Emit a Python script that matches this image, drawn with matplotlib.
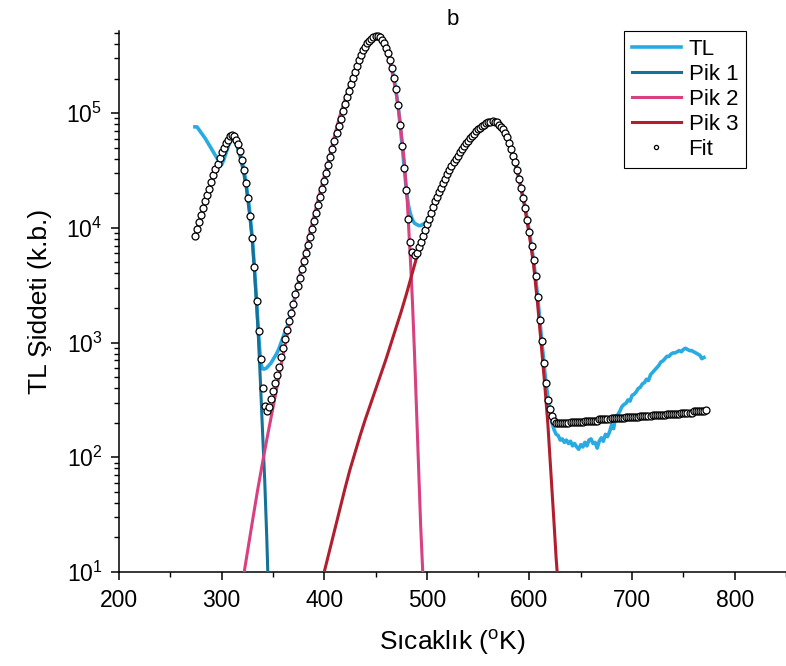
import matplotlib
matplotlib.use("Agg")
import matplotlib.pyplot as plt
import numpy as np
from matplotlib.ticker import MultipleLocator

# --- data (intensities stored as log10) ---
# Fit points, one every 2 K from 274 K to 772 K
fit_T = np.arange(274, 773, 2)
fit_log = [
    3.93, 3.99, 4.05, 4.11, 4.17, 4.23, 4.29, 4.34, 4.40, 4.46,
    4.51, 4.56, 4.61, 4.66, 4.70, 4.74, 4.77, 4.80, 4.81, 4.80,
    4.77, 4.73, 4.67, 4.59, 4.50, 4.39, 4.26, 4.10, 3.91, 3.66,
    3.36, 3.10, 2.86, 2.60, 2.45, 2.40,
    2.44, 2.51, 2.58, 2.65, 2.72, 2.79, 2.87, 2.95, 3.03, 3.11,
    3.19, 3.26, 3.34, 3.42, 3.49, 3.56, 3.64, 3.71, 3.78, 3.85,
    3.92, 3.99, 4.06, 4.13, 4.20, 4.27, 4.34, 4.41, 4.48, 4.55,
    4.62, 4.69, 4.76, 4.83, 4.89, 4.95, 5.02, 5.08, 5.14, 5.19,
    5.25, 5.31, 5.36, 5.41, 5.46, 5.51, 5.55, 5.58, 5.61, 5.63,
    5.65, 5.66, 5.67, 5.67, 5.66, 5.64, 5.61, 5.57, 5.52, 5.46,
    5.39, 5.31, 5.21, 5.07, 4.90, 4.71, 4.52, 4.33, 4.08, 3.88,
    3.79, 3.76,
    3.78, 3.83, 3.88, 3.93, 3.98, 4.03, 4.08, 4.13, 4.18, 4.23,
    4.27, 4.31, 4.35, 4.39, 4.43, 4.47, 4.50, 4.54, 4.57, 4.60,
    4.63, 4.66, 4.69, 4.71, 4.74, 4.76, 4.78, 4.80, 4.82, 4.84,
    4.86, 4.87, 4.89, 4.90, 4.91, 4.92, 4.925, 4.93, 4.925, 4.92,
    4.90, 4.88, 4.86, 4.83, 4.79, 4.74, 4.69, 4.63, 4.57, 4.50,
    4.43, 4.35, 4.26, 4.17, 4.07, 3.96, 3.84, 3.72, 3.58, 3.40,
    3.20, 3.01, 2.82, 2.65, 2.50, 2.42, 2.36, 2.32, 2.30,
    2.30, 2.30, 2.30, 2.30, 2.30, 2.30,
    2.31, 2.31, 2.31, 2.31, 2.31, 2.31, 2.31,
    2.32, 2.32, 2.32, 2.32, 2.32, 2.32, 2.32,
    2.33, 2.33, 2.33, 2.33, 2.33, 2.33,
    2.34, 2.34, 2.34, 2.34, 2.34, 2.34, 2.34,
    2.35, 2.35, 2.35, 2.35, 2.35, 2.35, 2.35,
    2.36, 2.36, 2.36, 2.36, 2.36, 2.36,
    2.37, 2.37, 2.37, 2.37, 2.37, 2.37, 2.37,
    2.38, 2.38, 2.38, 2.38, 2.38, 2.38, 2.38,
    2.39, 2.39, 2.39, 2.39, 2.39, 2.39,
    2.40, 2.40, 2.40, 2.40, 2.40, 2.40,
    2.41,
]

# measured TL curve
tl_T = [
    274, 276, 280, 284, 288, 292, 296, 300, 302, 305, 308, 310, 312, 314,
    316, 318, 320, 322, 324, 326, 328, 330, 332, 334, 336, 338, 340, 342,
    344, 346, 348, 350, 352, 354, 356, 358, 360, 362, 364, 368, 372, 380,
    388, 396, 404, 412, 420, 428, 436, 444, 450, 456, 462, 468, 472, 476,
    480, 482, 484, 486, 488, 490, 492, 494, 496, 498, 500, 502, 506, 512,
    520, 530, 540, 550, 560, 566, 572, 578, 584, 590, 596, 600, 604, 608,
    612, 616, 620, 622, 624, 626,
    628, 630, 632, 634, 636, 638, 640, 642, 644, 646,
    648, 650, 652, 654, 656, 658, 660, 662, 664, 666,
    668, 670, 672, 674, 676, 678, 680, 682, 684, 686,
    688, 690, 692, 694, 696, 698, 700, 702, 704, 706,
    708, 710, 712, 714, 716, 718, 720, 722, 724, 726,
    728, 730, 732, 734, 736, 738, 740, 742, 744, 746,
    748, 750, 752, 754, 756, 758, 760, 762, 764, 766,
    768, 770,
]
tl_log = [
    4.88, 4.88, 4.83, 4.78, 4.72, 4.66, 4.60, 4.55, 4.59, 4.67, 4.75, 4.79, 4.79, 4.76,
    4.72, 4.66, 4.58, 4.49, 4.38, 4.25, 4.09, 3.90, 3.65, 3.36, 3.08, 2.82, 2.77, 2.77,
    2.78, 2.80, 2.82, 2.85, 2.88, 2.91, 2.95, 3.00, 3.05, 3.10, 3.14, 3.26, 3.42, 3.71,
    3.99, 4.27, 4.55, 4.83, 5.08, 5.31, 5.51, 5.63, 5.67, 5.64, 5.52, 5.31, 5.07, 4.71,
    4.33, 4.20, 4.12, 4.07, 4.04, 4.03, 4.02, 4.02, 4.03, 4.04, 4.06, 4.08, 4.18, 4.31,
    4.47, 4.63, 4.76, 4.86, 4.92, 4.925, 4.88, 4.79, 4.63, 4.43, 4.17, 3.96, 3.72, 3.40,
    3.01, 2.65, 2.40, 2.30, 2.24, 2.20,
    2.19, 2.15, 2.16, 2.13, 2.15, 2.12, 2.14, 2.10, 2.12, 2.09,
    2.07, 2.11, 2.09, 2.13, 2.10, 2.15, 2.16, 2.12, 2.13, 2.08,
    2.14, 2.17, 2.14, 2.20, 2.18, 2.22, 2.28, 2.25, 2.36, 2.37,
    2.40, 2.44, 2.46, 2.47, 2.50, 2.49, 2.54, 2.55, 2.57, 2.60,
    2.61, 2.64, 2.65, 2.68, 2.67, 2.72, 2.74, 2.76, 2.78, 2.80,
    2.83, 2.84, 2.86, 2.88, 2.88, 2.90, 2.91, 2.91, 2.92, 2.93,
    2.92, 2.94, 2.95, 2.94, 2.93, 2.93, 2.92, 2.91, 2.90, 2.89,
    2.86, 2.87,
]

# glow peaks from the deconvolution
pik1_T = [274, 280, 285, 290, 295, 300, 305, 308, 310, 312, 315, 318, 321, 324,
          327, 330, 332, 334, 336, 338, 340, 342, 344, 345]
pik1_log = [3.92, 4.11, 4.26, 4.39, 4.52, 4.64, 4.74, 4.78, 4.79, 4.77, 4.71, 4.62,
            4.50, 4.35, 4.14, 3.88, 3.62, 3.35, 3.02, 2.62, 2.20, 1.80, 1.30, 1.00]

pik2_T = [322, 326, 330, 335, 340, 345, 350, 355, 360, 365, 370, 375, 380, 385,
          390, 395, 400, 405, 410, 415, 420, 425, 430, 435, 440, 445, 450, 455,
          460, 465, 470, 474, 478, 481, 484, 486, 488, 490, 492, 494, 496]
pik2_log = [1.00, 1.22, 1.44, 1.71, 1.96, 2.20, 2.43, 2.66, 2.90, 3.12, 3.33, 3.53,
            3.73, 3.92, 4.10, 4.28, 4.45, 4.62, 4.80, 4.97, 5.11, 5.25, 5.38, 5.49,
            5.58, 5.64, 5.66, 5.64, 5.55, 5.41, 5.18, 4.92, 4.58, 4.22, 3.72, 3.35,
            2.90, 2.40, 1.90, 1.40, 1.00]

pik3_T = [400, 405, 410, 415, 420, 425, 430, 435, 440, 445, 450, 455, 460, 465,
          470, 475, 480, 485, 490, 495, 500, 505, 510, 515, 520, 525, 530, 535,
          540, 545, 550, 555, 560, 565, 570, 575, 580, 585, 590, 595, 600, 604,
          608, 612, 615, 618, 621, 624, 626, 627]
pik3_log = [1.00, 1.18, 1.36, 1.54, 1.72, 1.89, 2.04, 2.19, 2.33, 2.46, 2.59, 2.72,
            2.85, 2.99, 3.13, 3.27, 3.42, 3.58, 3.74, 3.88, 4.01, 4.13, 4.25, 4.35,
            4.45, 4.54, 4.62, 4.69, 4.75, 4.80, 4.85, 4.88, 4.91, 4.92, 4.89, 4.84,
            4.74, 4.60, 4.42, 4.20, 3.93, 3.68, 3.33, 2.93, 2.62, 2.28, 1.85, 1.42,
            1.12, 1.00]

C_TL = "#29abe2"
C_P1 = "#13719a"
C_P2 = "#d8407f"
C_P3 = "#b11f2e"

plt.rcParams["font.family"] = ["Liberation Sans", "DejaVu Sans"]
plt.rcParams["mathtext.default"] = "regular"

fig = plt.figure(figsize=(7.86, 6.66), dpi=100)
ax = fig.add_axes([0.1514, 0.1411, 0.8486, 0.8124])

ax.plot(tl_T, 10 ** np.array(tl_log), color=C_TL, lw=2.6, label="TL", zorder=2)
ax.plot(pik1_T, 10 ** np.array(pik1_log), color=C_P1, lw=2.2, label="Pik 1", zorder=3)
ax.plot(pik2_T, 10 ** np.array(pik2_log), color=C_P2, lw=2.2, label="Pik 2", zorder=3)
ax.plot(pik3_T, 10 ** np.array(pik3_log), color=C_P3, lw=2.2, label="Pik 3", zorder=3)
ax.plot(fit_T, 10 ** np.array(fit_log), ls="none", marker="o", ms=5.0,
        mfc="white", mec="black", mew=0.9, label="Fit", zorder=4)

ax.set_yscale("log")
ax.set_xlim(200, 850)
ax.set_ylim(10, 5.2e5)
ax.xaxis.set_major_locator(MultipleLocator(100))
ax.xaxis.set_minor_locator(MultipleLocator(50))

for s in ("top", "right"):
    ax.spines[s].set_visible(False)
for s in ("left", "bottom"):
    ax.spines[s].set_linewidth(1.1)

ax.tick_params(which="major", direction="out", length=6, width=1.1, labelsize=16.5, pad=6)
ax.tick_params(which="minor", direction="out", length=3.5, width=1.0)

ax.set_xlabel("Sıcaklık ($^{o}$K)", fontsize=19, labelpad=12)
ax.set_ylabel("TL Şiddeti (k.b.)", fontsize=19, labelpad=10)
ax.set_title("b", fontsize=16, pad=4)

leg = ax.legend(loc="upper right", bbox_to_anchor=(0.94, 1.0), borderaxespad=0,
                fontsize=16, frameon=True, fancybox=False, edgecolor="black",
                framealpha=1, labelspacing=0.18, handlelength=2.2,
                handletextpad=0.35, borderpad=0.35, markerscale=0.6)
leg.get_frame().set_linewidth(0.8)

fig.savefig("out.png", dpi=100)
